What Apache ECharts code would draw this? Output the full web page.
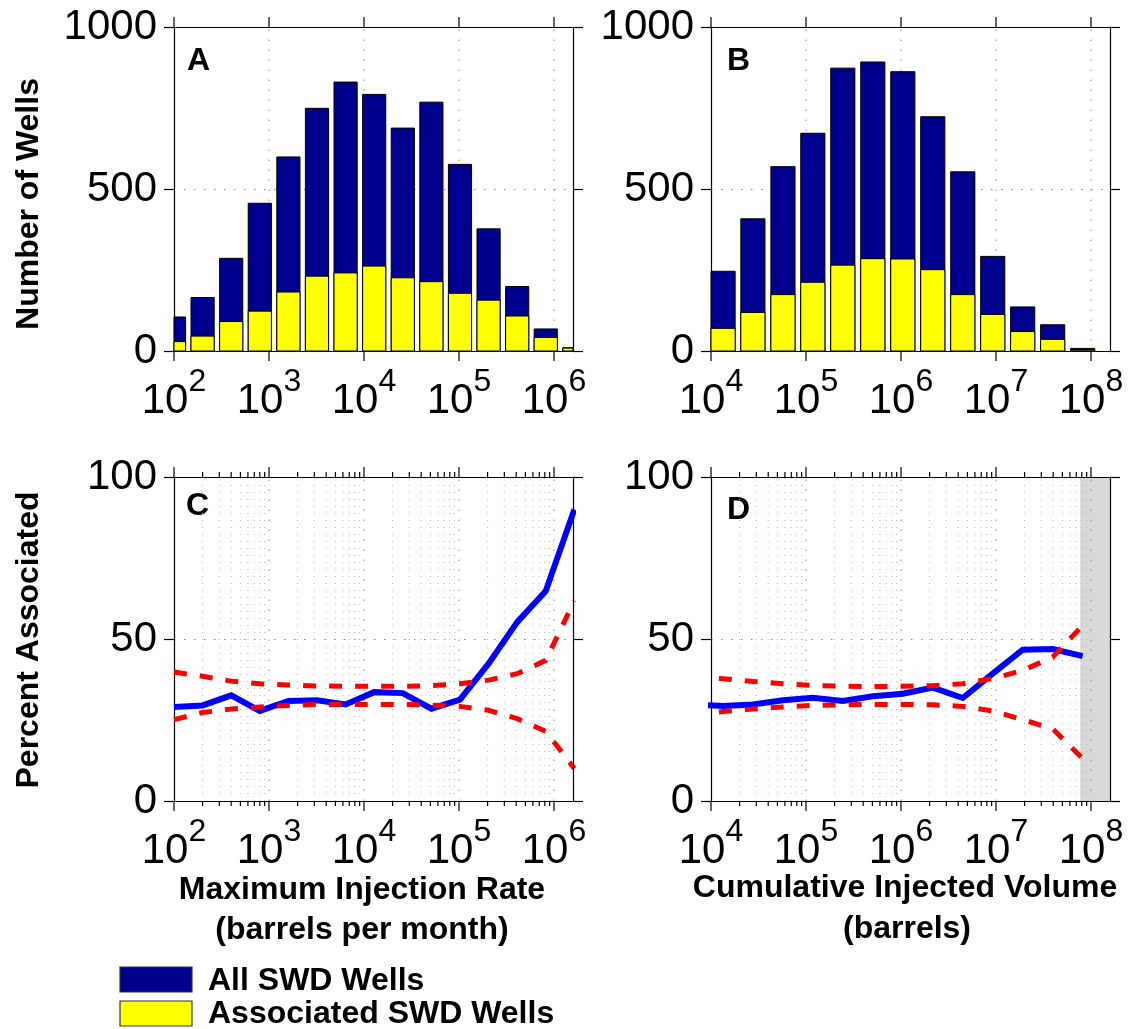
<!DOCTYPE html>
<html>
<head>
<meta charset="utf-8">
<title>Saltwater disposal wells</title>
<script src="https://cdn.jsdelivr.net/npm/echarts@6.0.0/dist/echarts.min.js"></script>
<style>
  html, body { margin: 0; padding: 0; background: #fff; }
  #chart { width: 1128px; height: 1029px; }
</style>
</head>
<body>
<div id="chart"></div>
<script>
// ---- Maximum injection rate (barrels per month): bin centres and counts ----
const rateBins = [100, 200, 400, 800, 1600, 3200, 6400, 12800, 25600, 51200, 102400, 204800, 409600, 819200, 1638400];
const rateAllWells = [105, 165, 286, 456, 599, 749, 830, 792, 688, 768, 576, 377, 199, 68, 10];
const rateAssocWells = [29, 46, 91, 123, 182, 231, 241, 262, 226, 214, 178, 157, 108, 42, 9];
// percent associated per rate bin, with upper / lower bounds
const ratePercent = [29.0, 29.5, 32.6, 27.8, 30.9, 31.1, 29.8, 33.6, 33.3, 28.5, 31.3, 42.4, 55.2, 64.8, 90.0];
const rateUpper = [39.8, 38.5, 37.0, 36.2, 35.8, 35.5, 35.4, 35.4, 35.4, 35.6, 36.2, 37.3, 39.3, 43.4, 61.8];
const rateLower = [25.1, 27.3, 28.4, 29.0, 29.5, 29.8, 29.8, 29.8, 29.8, 29.6, 29.2, 28.0, 25.4, 21.5, 10.0];

// ---- Cumulative injected volume (barrels): bin centres and counts ----
const volBins = [13400, 27600, 57200, 118000, 244000, 505000, 1045000, 2160000, 4470000, 9240000, 19100000, 39500000, 81700000];
const volAllWells = [246, 408, 569, 672, 873, 892, 862, 723, 553, 292, 136, 81, 8];
const volAssocWells = [70, 119, 174, 212, 265, 285, 284, 251, 174, 113, 60, 36, 3];
// percent associated per volume bin (first point lies just left of the axis)
const volCurveX = [6460, 13400, 27600, 57200, 118000, 244000, 505000, 1045000, 2160000, 4470000, 9240000, 19100000, 39500000, 81700000];
const volPercent = [29.8, 29.3, 29.8, 31.1, 31.9, 30.9, 32.3, 33.1, 35.0, 31.8, 39.3, 46.7, 46.9, 44.7];
const volUpper = [38.7, 37.7, 36.9, 36.2, 35.7, 35.4, 35.3, 35.4, 35.6, 36.2, 37.8, 40.3, 44.4, 54.2];
const volLower = [26.9, 27.6, 28.4, 29.0, 29.5, 29.7, 29.8, 29.8, 29.7, 29.2, 27.8, 25.1, 22.3, 13.1];
const volShadeStart = 7.7e7;

// ---- Axis ranges and ticks ----
const rateRange = [1e2, 1.585e6];
const volRange = [1e4, 1.585e8];
const rateDecades = [1e2, 1e3, 1e4, 1e5, 1e6];
const volDecades = [1e4, 1e5, 1e6, 1e7, 1e8];
const countMax = 1000, countStep = 500;
const percentMax = 100, percentStep = 50;

const FONT = "'Liberation Sans', Arial, Helvetica, sans-serif";
const NAVY = '#00008f';
const YELLOW = '#ffff00';

const panels = [
  { left: 174, top: 27, width: 399, height: 324, range: rateRange, decades: rateDecades, yMax: countMax, yStep: countStep, minor: false },
  { left: 711, top: 27, width: 399, height: 324, range: volRange, decades: volDecades, yMax: countMax, yStep: countStep, minor: false },
  { left: 174, top: 477, width: 399, height: 324, range: rateRange, decades: rateDecades, yMax: percentMax, yStep: percentStep, minor: true },
  { left: 711, top: 477, width: 399, height: 324, range: volRange, decades: volDecades, yMax: percentMax, yStep: percentStep, minor: true }
];

function powerLabel(v) {
  const e = Math.log10(v);
  const r = Math.round(e);
  if (Math.abs(e - r) > 1e-6) return '';
  return '{b|10}{s|' + r + '}';
}

const frameLine = { show: true, onZero: false, lineStyle: { color: '#000', width: 1.2 } };

const grids = [], xAxes = [], yAxes = [], series = [];

panels.forEach((p, i) => {
  grids.push({ left: p.left, top: p.top, width: p.width, height: p.height, containLabel: false });
  xAxes.push({
    type: 'log', logBase: 10, gridIndex: i, position: 'bottom', min: p.range[0], max: p.range[1], z: 10,
    axisLine: frameLine, axisTick: { show: false }, minorTick: { show: false }, splitLine: { show: false },
    axisLabel: {
      show: true, margin: 15, formatter: powerLabel, color: '#000', fontFamily: FONT,
      rich: {
        b: { fontSize: 42, fontFamily: FONT, color: '#000', lineHeight: 56, verticalAlign: 'bottom' },
        s: { fontSize: 32, fontFamily: FONT, color: '#000', lineHeight: 20, verticalAlign: 'top' }
      }
    }
  });
  xAxes.push({
    type: 'log', logBase: 10, gridIndex: i, position: 'top', min: p.range[0], max: p.range[1], z: 10,
    axisLine: frameLine, axisTick: { show: false }, axisLabel: { show: false }, splitLine: { show: false }
  });
  yAxes.push({
    type: 'value', gridIndex: i, position: 'left', min: 0, max: p.yMax, interval: p.yStep,
    axisLine: frameLine,
    axisTick: { show: true, inside: false, length: 10, lineStyle: { color: '#000', width: 1.2 } },
    axisLabel: { margin: 17, fontSize: 42, color: '#000', fontFamily: FONT, formatter: v => String(v) },
    splitLine: { show: true, lineStyle: { color: '#8a8a8a', width: 1, type: [1.5, 8.5] } }
  });
  yAxes.push({
    type: 'value', gridIndex: i, position: 'right', min: 0, max: p.yMax, interval: p.yStep, z: 10,
    axisLine: frameLine,
    axisTick: { show: true, inside: false, length: 10, lineStyle: { color: '#000', width: 1.2 } },
    axisLabel: { show: false }, splitLine: { show: false }
  });

  // vertical log grid lines and outward tick marks on top and bottom
  const marks = p.decades.map(v => [v, 1]);
  if (p.minor) {
    p.decades.forEach(d => {
      for (let m = 2; m <= 9; m++) if (m * d < p.range[1]) marks.push([m * d, 0]);
    });
  }
  series.push({
    type: 'custom', xAxisIndex: 2 * i, yAxisIndex: 2 * i, z: 1, silent: true, animation: false,
    data: marks,
    renderItem(params, api) {
      const v = api.value(0);
      const major = api.value(1) === 1;
      const b = api.coord([v, 0]);
      const t = api.coord([v, p.yMax]);
      const len = major ? 10 : 5;
      const kids = [];
      const atEdge = Math.abs(v - p.range[0]) / v < 1e-9 || Math.abs(v - p.range[1]) / v < 1e-9;
      if (!atEdge) {
        kids.push({ type: 'line', shape: { x1: b[0], y1: b[1], x2: t[0], y2: t[1] },
          style: { stroke: major ? '#8a8a8a' : '#b4b4b4', lineWidth: 1, lineDash: major ? [1.5, 8.5] : [1, 6] } });
      }
      kids.push({ type: 'line', shape: { x1: b[0], y1: b[1], x2: b[0], y2: b[1] + len }, style: { stroke: '#000', lineWidth: 1.2 } });
      kids.push({ type: 'line', shape: { x1: t[0], y1: t[1], x2: t[0], y2: t[1] - len }, style: { stroke: '#000', lineWidth: 1.2 } });
      return { type: 'group', children: kids };
    }
  });
});

// histogram bars drawn on the log axis, 81% of each bin wide
function histSeries(gi, name, centers, counts, color, z) {
  const halfDec = 0.405 * Math.log10(centers[1] / centers[0]);
  const f = Math.pow(10, halfDec);
  return {
    name, type: 'custom', xAxisIndex: 2 * gi, yAxisIndex: 2 * gi, z, animation: false,
    itemStyle: { color },
    data: centers.map((c, k) => [c, counts[k]]),
    renderItem(params, api) {
      const c = api.value(0);
      const p0 = api.coord([c / f, 0]);
      const p1 = api.coord([c * f, api.value(1)]);
      const cs = params.coordSys;
      const rect = echarts.graphic.clipRectByRect(
        { x: p0[0], y: p1[1], width: p1[0] - p0[0], height: p0[1] - p1[1] },
        { x: cs.x, y: cs.y, width: cs.width, height: cs.height });
      if (!rect) return;
      return { type: 'rect', shape: rect, style: { fill: color, stroke: '#000', lineWidth: 1 } };
    }
  };
}

function curve(gi, xs, ys, color, width, dashed, z) {
  return {
    type: 'line', xAxisIndex: 2 * gi, yAxisIndex: 2 * gi, z, animation: false, clip: true,
    showSymbol: false, symbol: 'none', silent: true,
    data: xs.map((x, k) => [x, ys[k]]),
    lineStyle: { color, width, type: dashed ? [13, 13] : 'solid', cap: 'butt', join: 'miter' }
  };
}

series.push(histSeries(0, 'All SWD Wells', rateBins, rateAllWells, NAVY, 3));
series.push(histSeries(0, 'Associated SWD Wells', rateBins, rateAssocWells, YELLOW, 4));
series.push(histSeries(1, 'All SWD Wells', volBins, volAllWells, NAVY, 3));
series.push(histSeries(1, 'Associated SWD Wells', volBins, volAssocWells, YELLOW, 4));

series.push(curve(2, rateBins, ratePercent, '#0000ff', 6, false, 5));
series.push(curve(2, rateBins, rateUpper, '#ff0000', 5, true, 6));
series.push(curve(2, rateBins, rateLower, '#ff0000', 5, true, 6));

// grey band marking the largest cumulative volumes
series.push({
  type: 'custom', xAxisIndex: 6, yAxisIndex: 6, z: 0, silent: true, animation: false,
  data: [[volShadeStart, 0]],
  renderItem(params, api) {
    const a = api.coord([api.value(0), percentMax]);
    const b = api.coord([volRange[1], 0]);
    return { type: 'rect', shape: { x: a[0], y: a[1], width: b[0] - a[0], height: b[1] - a[1] }, style: { fill: '#d9d9d9' } };
  }
});
series.push(curve(3, volCurveX, volPercent, '#0000ff', 6, false, 5));
series.push(curve(3, volCurveX, volUpper, '#ff0000', 5, true, 6));
series.push(curve(3, volCurveX, volLower, '#ff0000', 5, true, 6));

const bold32 = 'bold 32px ' + FONT;
function label(text, x, y, align, rotate) {
  return {
    type: 'text', x, y, rotation: rotate ? Math.PI / 2 : 0, silent: true,
    style: { text, font: bold32, fill: '#000', textAlign: align, textVerticalAlign: 'middle' }
  };
}

const graphics = [
  label('A', 187, 61, 'left'),
  label('B', 727, 61, 'left'),
  label('C', 186, 506, 'left'),
  label('D', 727, 510, 'left'),
  label('Number of Wells', 29, 204, 'center', true),
  label('Percent Associated', 29, 640, 'center', true),
  label('Maximum Injection Rate', 362, 890, 'center'),
  label('(barrels per month)', 362, 930, 'center'),
  label('Cumulative Injected Volume', 905, 888, 'center'),
  label('(barrels)', 907, 929, 'center'),
  { type: 'rect', silent: true, shape: { x: 120, y: 967, width: 72, height: 25 }, style: { fill: NAVY, stroke: '#333', lineWidth: 1.2 } },
  { type: 'rect', silent: true, shape: { x: 120, y: 1001, width: 72, height: 25 }, style: { fill: YELLOW, stroke: '#333', lineWidth: 1.2 } },
  label('All SWD Wells', 208, 981, 'left'),
  label('Associated SWD Wells', 208, 1014, 'left')
];

const chart = echarts.init(document.getElementById('chart'), null, { renderer: 'canvas' });
chart.setOption({
  animation: false,
  backgroundColor: '#fff',
  textStyle: { fontFamily: FONT },
  grid: grids,
  xAxis: xAxes,
  yAxis: yAxes,
  series,
  graphic: graphics
});
</script>
</body>
</html>
